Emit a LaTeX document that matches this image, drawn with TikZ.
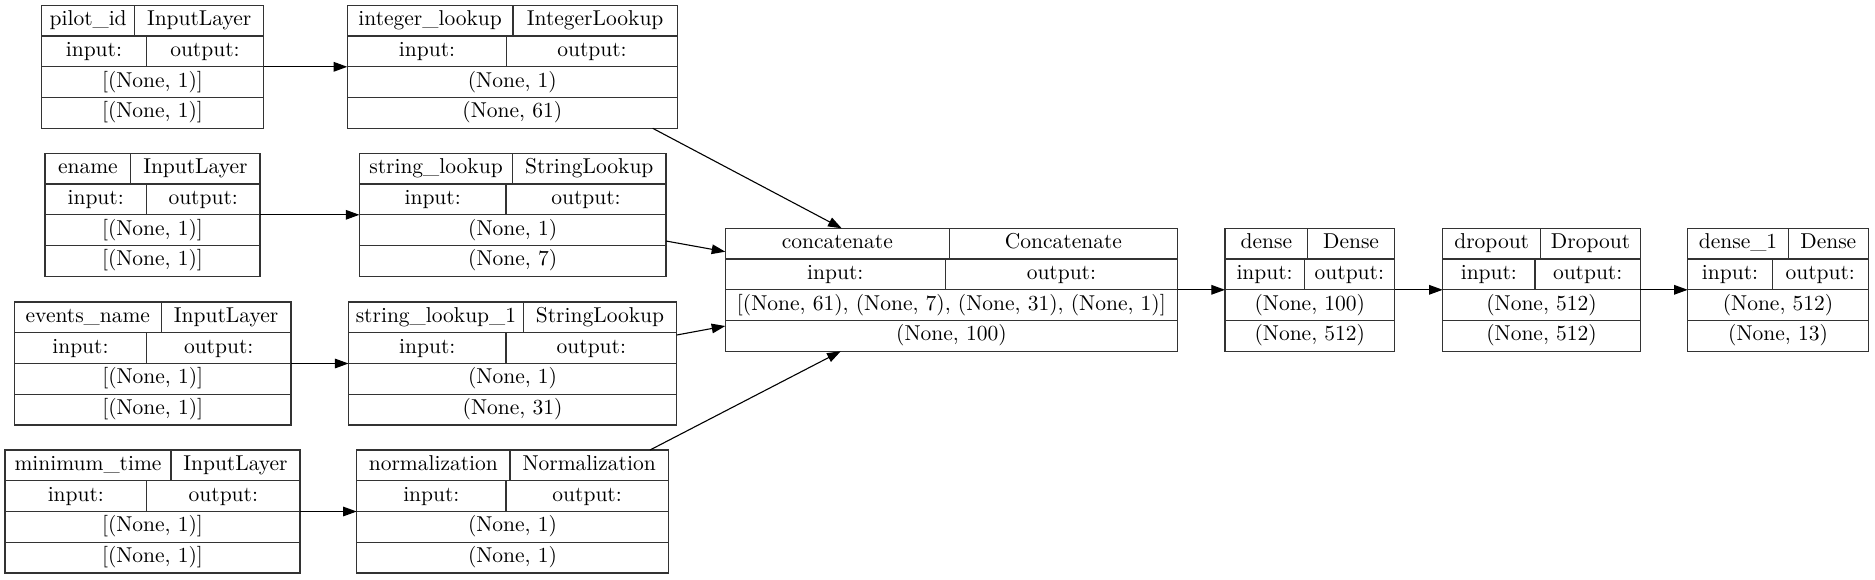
\documentclass[tikz,border=0pt]{standalone}
\usepackage{fontspec}
\usetikzlibrary{arrows.meta,calc}
\tikzset{
  boxline/.style={draw=black!80, line width=0.65pt},
  layerbox/.style={boxline, rectangle, inner sep=0pt, outer sep=0pt},
  txt/.style={inner sep=0pt, font=\fontsize{10.75}{12}\selectfont, text height=7.5pt, text depth=2.5pt},
  arr/.style={draw=black, line width=0.55pt, -{Triangle[length=6.8pt,width=4.8pt]}},
}
% #1 id, #2 left, #3 right, #4 top, #5 header divider, #6 io divider, #7 name, #8 type; then {in}{out}
\newcommand\mylayer[8]{%
  \def\bxid{#1}\def\bxl{#2}\def\bxr{#3}\def\bxt{#4}\def\bxh{#5}\def\bxio{#6}\def\bxname{#7}\def\bxtype{#8}%
  \mylayerB}
\newcommand\mylayerB[2]{%
  \pgfmathsetmacro\bxcx{(\bxl+\bxr)/2}%
  \pgfmathsetmacro\bxcy{\bxt+61.5}%
  \pgfmathsetmacro\bxw{(\bxr-\bxl)*0.5}%
  \node[layerbox, minimum width=\bxw pt, minimum height=61.5pt] (\bxid) at (\bxcx,\bxcy) {};
  \pgfmathsetmacro\bya{\bxt+30.75}%
  \pgfmathsetmacro\byb{\bxt+61.5}%
  \pgfmathsetmacro\byc{\bxt+92.25}%
  \draw[boxline] (\bxl,\bya) -- (\bxr,\bya);
  \draw[boxline] (\bxl,\byb) -- (\bxr,\byb);
  \draw[boxline] (\bxl,\byc) -- (\bxr,\byc);
  \draw[boxline] (\bxh,\bxt) -- (\bxh,\bya);
  \draw[boxline] (\bxio,\bya) -- (\bxio,\byb);
  \pgfmathsetmacro\bxa{(\bxl+\bxh)/2}%
  \pgfmathsetmacro\bxb{(\bxh+\bxr)/2}%
  \pgfmathsetmacro\bxc{(\bxl+\bxio)/2}%
  \pgfmathsetmacro\bxd{(\bxio+\bxr)/2}%
  \pgfmathsetmacro\bra{\bxt+15.375}%
  \pgfmathsetmacro\brb{\bxt+46.125}%
  \pgfmathsetmacro\brc{\bxt+76.875}%
  \pgfmathsetmacro\brd{\bxt+107.625}%
  \node[txt] (\bxid-name) at (\bxa,\bra) {\bxname};
  \node[txt] (\bxid-type) at (\bxb,\bra) {\bxtype};
  \node[txt] (\bxid-in) at (\bxc,\brb) {input:};
  \node[txt] (\bxid-out) at (\bxd,\brb) {output:};
  \node[txt] (\bxid-s1) at (\bxcx,\brc) {#1};
  \node[txt] (\bxid-s2) at (\bxcx,\brd) {#2};
}
\begin{document}
\begin{tikzpicture}[x=0.5pt,y=-0.5pt]
\useasboundingbox[fill=white] (0,0) rectangle (1875,579);

\mylayer{pilot}{41.5}{263.5}{5.3}{134.8}{146.4}{pilot\_id}{InputLayer}{[(None, 1)]}{[(None, 1)]}
\mylayer{intlook}{347.3}{677.3}{5.3}{513}{506.8}{integer\_lookup}{IntegerLookup}{(None, 1)}{(None, 61)}
\mylayer{ename}{45}{260}{153.3}{130.8}{146.4}{ename}{InputLayer}{[(None, 1)]}{[(None, 1)]}
\mylayer{strlook}{359.4}{666}{153.3}{512.6}{506}{string\_lookup}{StringLookup}{(None, 1)}{(None, 7)}
\mylayer{events}{14.5}{291}{302}{161.2}{146.4}{events\_name}{InputLayer}{[(None, 1)]}{[(None, 1)]}
\mylayer{strlookb}{348.5}{676.7}{302}{523.3}{506}{string\_lookup\_1}{StringLookup}{(None, 1)}{(None, 31)}
\mylayer{mintime}{5}{300}{450}{171}{146.7}{minimum\_time}{InputLayer}{[(None, 1)]}{[(None, 1)]}
\mylayer{norm}{356.7}{668.3}{450}{510}{506}{normalization}{Normalization}{(None, 1)}{(None, 1)}
\mylayer{concat}{725.3}{1177.5}{228.3}{949.3}{945.3}{concatenate}{Concatenate}{[(None, 61), (None, 7), (None, 31), (None, 1)]}{(None, 100)}
\mylayer{dense}{1225}{1394.5}{228.3}{1307.6}{1304.2}{dense}{Dense}{(None, 100)}{(None, 512)}
\mylayer{dropout}{1442.7}{1640.3}{228.3}{1540.7}{1535}{dropout}{Dropout}{(None, 512)}{(None, 512)}
\mylayer{denseb}{1687.7}{1868.3}{228.3}{1788.3}{1772.3}{dense\_1}{Dense}{(None, 512)}{(None, 13)}

\draw[arr] (pilot.east) -- (intlook.west);
\draw[arr] (ename.east) -- (strlook.west);
\draw[arr] (events.east) -- (strlookb.west);
\draw[arr] (mintime.east) -- (norm.west);
\draw[arr] ([xshift=-12.3pt]intlook.south east) -- ([xshift=58.2pt]concat.north west);
\draw[arr] ([yshift=-13.1pt]strlook.east) -- ([yshift=19.05pt]concat.west);
\draw[arr] ([yshift=14.25pt]strlookb.east) -- ([yshift=-18.1pt]concat.west);
\draw[arr] ([xshift=-9.15pt]norm.north east) -- ([xshift=57.7pt]concat.south west);
\draw[arr] (concat.east) -- (dense.west);
\draw[arr] (dense.east) -- (dropout.west);
\draw[arr] (dropout.east) -- (denseb.west);
\end{tikzpicture}
\end{document}
